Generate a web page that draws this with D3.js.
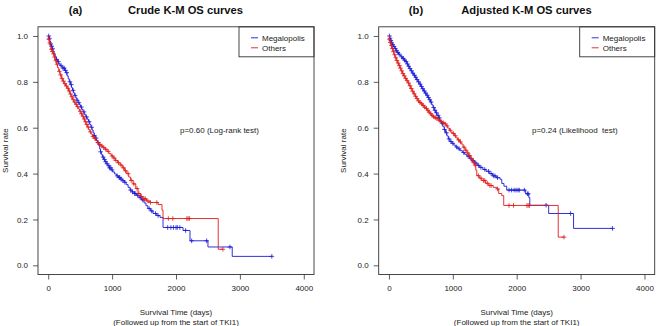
<!DOCTYPE html>
<html>
<head>
<meta charset="utf-8">
<script src="https://cdn.jsdelivr.net/npm/d3@7"></script>
<style>
  body { margin: 0; background: #fff; }
  svg { display: block; font-family: "Liberation Sans", Arial, sans-serif; }
  .tick text { font-size: 8px; fill: #222; }
  .tick line { stroke: #333; stroke-width: 0.8; }
</style>
</head>
<body>
<svg id="chart" width="656" height="326"></svg>
<script>
const xTicks = [0, 1000, 2000, 3000, 4000];
const yTicks = [0, 0.2, 0.4, 0.6, 0.8, 1.0];
const groups = ['Megalopolis', 'Others'];

// [day, survival from that day on]
const megaCrude = [[0,1.0],[10,0.99],[22,0.978],[35,0.965],[48,0.955],[62,0.944],[76,0.933],[92,0.92],[110,0.909],[128,0.898],[146,0.888],[165,0.879],[185,0.872],[205,0.866],[230,0.86],[255,0.85],[275,0.84],[295,0.826],[313,0.813],[330,0.8],[348,0.788],[365,0.775],[380,0.763],[396,0.752],[414,0.741],[432,0.73],[450,0.72],[468,0.709],[486,0.7],[505,0.69],[525,0.68],[545,0.669],[565,0.658],[588,0.647],[610,0.637],[630,0.626],[650,0.614],[668,0.602],[686,0.59],[703,0.578],[720,0.566],[738,0.555],[756,0.545],[772,0.535],[790,0.522],[805,0.508],[818,0.495],[832,0.483],[848,0.472],[866,0.462],[886,0.452],[908,0.443],[932,0.434],[956,0.425],[982,0.416],[1010,0.407],[1040,0.398],[1070,0.39],[1100,0.383],[1130,0.376],[1160,0.369],[1190,0.362],[1220,0.352],[1250,0.34],[1280,0.328],[1310,0.32],[1345,0.313],[1380,0.305],[1420,0.295],[1460,0.285],[1500,0.272],[1530,0.26],[1560,0.248],[1600,0.237],[1640,0.226],[1700,0.217],[1750,0.209],[1797,0.165],[2110,0.152],[2219,0.107],[2500,0.08],[2880,0.039]];
const megaCrudeCens = [8,20,40,55,70,130,160,200,230,250,270,290,340,360,390,420,450,480,520,560,600,640,680,720,750,780,820,860,880,900,920,950,960,980,1000,1080,1110,1120,1140,1170,1200,1290,1320,1350,1370,1400,1440,1480,1580,1620,1680,1720,1870,1920,1960,2000,2020,2060,2150,2245,2480,2844,3500];

const othersCrude = [[0,1.0],[8,0.985],[18,0.97],[30,0.955],[42,0.942],[58,0.932],[75,0.922],[92,0.908],[110,0.892],[128,0.877],[146,0.862],[165,0.846],[185,0.83],[205,0.815],[225,0.803],[248,0.792],[272,0.782],[297,0.772],[318,0.76],[338,0.747],[358,0.735],[378,0.724],[400,0.712],[422,0.702],[446,0.692],[470,0.682],[492,0.672],[512,0.661],[532,0.65],[552,0.638],[572,0.626],[592,0.614],[612,0.603],[632,0.592],[652,0.582],[672,0.572],[694,0.562],[716,0.553],[740,0.544],[766,0.535],[795,0.527],[825,0.52],[858,0.513],[891,0.506],[920,0.497],[950,0.487],[985,0.477],[1016,0.468],[1050,0.457],[1085,0.447],[1125,0.437],[1160,0.425],[1195,0.412],[1230,0.4],[1260,0.385],[1290,0.37],[1328,0.355],[1370,0.335],[1406,0.313],[1445,0.3],[1484,0.29],[1540,0.28],[1594,0.274],[1719,0.265],[1781,0.24],[1797,0.204],[2661,0.07]];
const othersCrudeCens = [10,25,50,65,85,100,120,140,175,195,215,240,260,285,310,330,350,370,390,415,440,460,500,520,545,565,585,605,625,660,700,730,780,810,840,870,900,940,1000,1030,1060,1100,1140,1180,1210,1250,1300,1340,1390,1420,1460,1500,1520,1560,1600,1700,1880,1950,2170,2190,2210,2734];

const megaAdj = [[0,1.0],[10,0.99],[22,0.98],[36,0.97],[52,0.962],[70,0.954],[90,0.945],[110,0.936],[130,0.928],[150,0.921],[170,0.915],[190,0.909],[212,0.902],[235,0.895],[258,0.888],[280,0.878],[300,0.868],[320,0.858],[342,0.848],[364,0.838],[386,0.829],[408,0.82],[430,0.81],[452,0.8],[474,0.79],[496,0.78],[518,0.77],[540,0.76],[562,0.751],[584,0.742],[606,0.732],[628,0.722],[650,0.712],[670,0.7],[690,0.688],[710,0.676],[730,0.665],[752,0.654],[775,0.643],[798,0.632],[820,0.62],[842,0.606],[864,0.592],[886,0.578],[908,0.564],[930,0.551],[955,0.54],[985,0.532],[1015,0.524],[1045,0.516],[1080,0.508],[1115,0.5],[1150,0.492],[1185,0.484],[1220,0.476],[1260,0.466],[1300,0.456],[1340,0.446],[1380,0.436],[1420,0.427],[1470,0.418],[1520,0.41],[1570,0.4],[1620,0.39],[1680,0.382],[1740,0.375],[1766,0.357],[1800,0.345],[1844,0.328],[2140,0.312],[2190,0.295],[2205,0.262],[2500,0.226],[2890,0.161]];
const megaAdjCens = [8,18,30,45,60,80,100,120,140,160,200,225,245,270,290,310,330,355,375,400,420,440,465,490,510,530,555,575,600,620,640,660,700,720,745,770,790,830,870,900,940,970,1000,1060,1100,1170,1240,1280,1320,1360,1400,1440,1500,1560,1600,1640,1660,1700,1880,1920,1960,1990,2020,2040,2120,2170,2180,2460,2844,3500];

const othersAdj = [[0,1.0],[8,0.985],[18,0.972],[30,0.958],[45,0.945],[62,0.932],[80,0.918],[98,0.905],[116,0.893],[134,0.882],[152,0.871],[170,0.86],[190,0.848],[210,0.836],[230,0.826],[252,0.815],[275,0.805],[297,0.795],[318,0.783],[340,0.771],[362,0.759],[385,0.748],[408,0.737],[430,0.727],[452,0.717],[476,0.71],[500,0.704],[525,0.697],[550,0.69],[575,0.684],[598,0.676],[620,0.668],[642,0.661],[664,0.654],[688,0.648],[712,0.644],[737,0.64],[768,0.633],[800,0.627],[833,0.622],[867,0.617],[895,0.608],[922,0.598],[948,0.589],[972,0.58],[997,0.575],[1025,0.565],[1050,0.556],[1075,0.547],[1105,0.538],[1130,0.529],[1160,0.515],[1190,0.502],[1220,0.49],[1250,0.478],[1280,0.464],[1310,0.45],[1337,0.437],[1360,0.415],[1375,0.391],[1415,0.38],[1453,0.37],[1510,0.358],[1563,0.348],[1630,0.34],[1688,0.333],[1719,0.313],[1766,0.304],[1797,0.261],[2650,0.123]];
const othersAdjCens = [10,22,40,55,72,90,108,125,145,165,180,200,220,240,262,285,308,330,350,372,395,418,440,465,488,512,538,560,588,610,630,655,676,700,725,750,785,815,850,880,910,960,1010,1040,1090,1120,1175,1205,1235,1265,1295,1320,1350,1400,1440,1480,1500,1540,1580,1600,1700,1880,1950,2160,2180,2200,2740];

const panels = [
  { x0: 38, tag: '(a)', tagX: 75.5, title: 'Crude K-M OS curves', titleX: 185.5, ylabX: 8,
    pText: 'p=0.60 (Log-rank test)', pX: 180,
    curves: [
      { steps: megaCrude, cens: megaCrudeCens, end: 3500, color: '#1a1ad8' },
      { steps: othersCrude, cens: othersCrudeCens, end: 2734, color: '#e01c1c' }
    ] },
  { x0: 378.7, tag: '(b)', tagX: 416, title: 'Adjusted K-M OS curves', titleX: 526.5, ylabX: 346,
    pText: 'p=0.24 (Likelihood\u00a0 test)', pX: 532,
    curves: [
      { steps: megaAdj, cens: megaAdjCens, end: 3500, color: '#1a1ad8' },
      { steps: othersAdj, cens: othersAdjCens, end: 2740, color: '#e01c1c' }
    ] }
];

const legendColors = ['#1a1ad8', '#e01c1c'];
const plotW = 276, plotTop = 26.8, plotBottom = 274.5;
const svg = d3.select('#chart');

function survAt(steps, t) {
  const i = d3.bisector(d => d[0]).right(steps, t) - 1;
  return steps[Math.max(0, i)][1];
}

panels.forEach(p => {
  const x = d3.scaleLinear().domain([-160, 4160]).range([p.x0, p.x0 + plotW]);
  const y = d3.scaleLinear().domain([-0.04, 1.04]).range([plotBottom, plotTop]);
  const g = svg.append('g');

  // axes
  const xa = g.append('g')
    .attr('transform', `translate(0,${plotBottom})`)
    .call(d3.axisBottom(x).tickValues(xTicks).tickSize(5).tickPadding(6).tickFormat(d3.format('d')));
  xa.select('.domain').remove();

  const ya = g.append('g')
    .attr('transform', `translate(${p.x0},0)`)
    .call(d3.axisLeft(y).tickValues(yTicks).tickSize(5).tickPadding(5).tickFormat(d3.format('.1f')));
  ya.select('.domain').remove();

  // curves
  const line = d3.line().x(d => x(d[0])).y(d => y(d[1])).curve(d3.curveStepAfter);
  p.curves.forEach(c => {
    const pts = c.steps.concat([[c.end, c.steps[c.steps.length - 1][1]]]);
    g.append('path')
      .attr('d', line(pts))
      .attr('fill', 'none')
      .attr('stroke', c.color)
      .attr('stroke-width', 0.9);

    g.selectAll(null)
      .data(c.cens)
      .enter()
      .append('path')
      .attr('d', t => {
        const cx = x(t), cy = y(survAt(c.steps, t));
        return `M${cx - 2.3},${cy}H${cx + 2.3}M${cx},${cy - 2.3}V${cy + 2.3}`;
      })
      .attr('stroke', c.color)
      .attr('stroke-width', 0.8);
  });

  // box
  g.append('rect')
    .attr('x', p.x0).attr('y', plotTop)
    .attr('width', plotW).attr('height', plotBottom - plotTop)
    .attr('fill', 'none').attr('stroke', '#333').attr('stroke-width', 0.9);

  // legend
  const lx = p.x0 + plotW - 75;
  const lg = g.append('g');
  lg.append('rect')
    .attr('x', lx).attr('y', plotTop)
    .attr('width', 75).attr('height', 30)
    .attr('fill', 'none').attr('stroke', '#333').attr('stroke-width', 0.9);
  groups.forEach((name, i) => {
    const ly = plotTop + 11 + i * 10;
    lg.append('line')
      .attr('x1', lx + 12).attr('x2', lx + 19)
      .attr('y1', ly).attr('y2', ly)
      .attr('stroke', legendColors[i]).attr('stroke-width', 0.9);
    lg.append('text')
      .attr('x', lx + 23).attr('y', ly + 3)
      .style('font-size', '8px').style('fill', '#222')
      .text(name);
  });

  // titles and labels
  g.append('text')
    .attr('x', p.tagX).attr('y', 14)
    .attr('text-anchor', 'middle')
    .style('font-size', '11.2px').style('font-weight', 'bold').style('fill', '#111')
    .text(p.tag);
  g.append('text')
    .attr('x', p.titleX).attr('y', 14)
    .attr('text-anchor', 'middle')
    .style('font-size', '11.2px').style('font-weight', 'bold').style('fill', '#111')
    .text(p.title);

  g.append('text')
    .attr('x', p.pX).attr('y', 133)
    .style('font-size', '8px').style('fill', '#222')
    .text(p.pText);

  const cx = p.x0 + plotW / 2;
  g.append('text')
    .attr('x', cx).attr('y', 314.5)
    .attr('text-anchor', 'middle')
    .style('font-size', '8px').style('fill', '#222')
    .text('Survival Time (days)');
  g.append('text')
    .attr('x', cx).attr('y', 325)
    .attr('text-anchor', 'middle')
    .style('font-size', '8px').style('fill', '#222')
    .text('(Followed up from the start of TKI1)');

  g.append('text')
    .attr('transform', `translate(${p.ylabX},${(plotTop + plotBottom) / 2}) rotate(-90)`)
    .attr('text-anchor', 'middle')
    .style('font-size', '8px').style('fill', '#222')
    .text('Survival rate');
});
</script>
</body>
</html>
